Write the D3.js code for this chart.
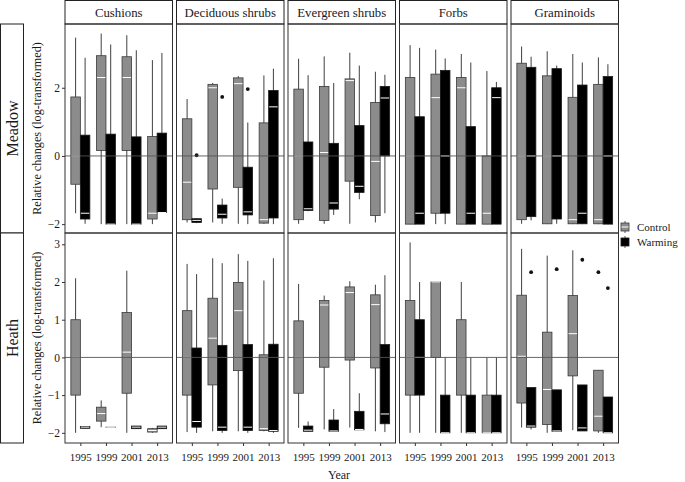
<!DOCTYPE html>
<html><head><meta charset="utf-8">
<script src="https://cdn.jsdelivr.net/npm/d3@7"></script>
<style>
body{margin:0;background:#fff}
svg{display:block}
text{font-family:"Liberation Serif","Times New Roman",serif;fill:#1a1a1a}
</style>
</head><body>
<svg id="chart" width="685" height="482" font-family="Liberation Serif, serif"></svg>
<script>
// ---------- data ----------
const habitats = ["Meadow", "Heath"];
const groups = ["Cushions", "Deciduous shrubs", "Evergreen shrubs", "Forbs", "Graminoids"];
const years = ["1995", "1999", "2001", "2013"];
const treatments = ["Control", "Warming"];

// each box: [lower whisker, Q1, median, Q3, upper whisker]; rows = groups, cols = years
const meadowControl = [
  [[-1.68,-0.83,0,1.73,3.47],[-2.0,0.16,2.30,2.94,3.59],[-2.0,0.16,2.30,2.91,3.54],[-2.0,-1.85,-1.68,0.57,2.81]],
  [[-1.95,-1.87,-0.77,1.09,1.67],[-1.95,-0.97,2.0,2.10,2.14],[-1.99,-0.92,2.12,2.29,2.34],[-1.99,-1.97,-1.87,0.97,2.36]],
  [[-1.99,-1.87,0,1.96,2.85],[-1.99,-1.89,0.10,2.04,2.92],[-1.99,-0.74,2.21,2.26,3.03],[-1.95,-1.75,-0.16,1.57,2.47]],
  [[-2,-2,0,2.30,3.25],[-2,-1.68,1.71,2.40,3.12],[-2,-2,2.0,2.30,2.99],[-2,-2,-1.68,0,2.49]],
  [[-1.99,-1.87,0,2.72,3.21],[-2,-1.99,0,2.35,3.07],[-2,-1.99,-1.87,1.72,2.99],[-2,-1.99,-1.87,2.10,2.89]]
];
const meadowWarming = [
  [[-1.99,-1.85,-1.68,0.61,2.88],[-2,-2,-2,0.64,3.27],[-2,-2,-2,0.56,3.10],[-1.66,-1.66,-1.66,0.67,3.02]],
  [[-1.97,-1.95,-1.89,-1.84,-1.84],[-1.99,-1.82,-1.71,-1.44,-1.25],[-2,-1.73,-1.64,-0.33,0.98],[-2,-1.82,1.44,1.92,2.56]],
  [[-1.62,-1.60,-1.55,0.41,2.37],[-1.73,-1.56,-1.38,0.37,2.14],[-1.27,-1.07,-0.89,0.89,2.65],[-1.68,0,1.70,2.04,2.38]],
  [[-2,-2,-1.68,1.15,3.17],[-2,-1.68,0,2.51,2.86],[-2,-2,-1.68,0.86,2.74],[-2,-2,1.71,2.0,2.17]],
  [[-1.89,-1.78,0,2.60,2.91],[-1.99,-1.85,0,2.56,2.65],[-2,-1.99,-1.68,2.08,2.74],[-2,-2,0,2.33,2.69]]
];
const heathControl = [
  [[-2,-1.0,0,1.0,2.1],[-1.85,-1.69,-1.49,-1.32,-1.14],[-2,-0.95,0.14,1.19,2.3],[-2.0,-1.98,-1.94,-1.89,-1.87]],
  [[-1.98,-1.0,0,1.24,2.48],[-1.96,-0.73,0.51,1.57,2.63],[-1.96,-0.35,1.24,1.99,2.74],[-1.96,-1.94,-1.89,0.07,2.04]],
  [[-1.87,-0.95,0,0.97,1.95],[-1.91,-0.26,1.39,1.51,1.64],[-1.86,-0.07,1.72,1.87,2.02],[-1.96,-0.28,1.40,1.66,1.93]],
  [[-2,-1.0,0,1.51,3.05],[-2,0,2.0,2.0,2.0],[-2,-1.0,0,1.0,2.0],[-2,-2,-2,-1.0,0]],
  [[-1.86,-1.21,0.03,1.65,2.88],[-2,-1.78,-0.85,0.67,2.70],[-1.93,-0.49,0.63,1.64,2.84],[-2,-1.95,-1.56,-0.34,-0.34]]
];
const heathWarming = [
  [[-1.88,-1.88,-1.85,-1.83,-1.83],[-1.85,-1.85,-1.85,-1.85,-1.85],[-1.89,-1.89,-1.85,-1.82,-1.82],[-1.89,-1.89,-1.85,-1.82,-1.82]],
  [[-2,-1.85,-1.70,0.25,2.21],[-2,-1.94,-1.85,0.32,2.5],[-2,-1.94,-1.85,0.34,2.56],[-2,-1.96,-1.94,0.35,2.63]],
  [[-1.96,-1.96,-1.93,-1.82,-1.70],[-1.96,-1.96,-1.95,-1.66,-1.37],[-1.92,-1.92,-1.91,-1.43,-0.95],[-1.98,-1.76,-1.50,0.34,2.18]],
  [[-2,-1.0,0,1.0,2.0],[-2,-2,-2,-1.0,0],[-2,-2,-2,-1.0,0],[-2,-2,-2,-1.0,0]],
  [[-1.91,-1.85,-1.82,-0.80,-0.80],[-1.96,-1.96,-1.95,-0.86,-0.86],[-1.95,-1.95,-1.87,-0.73,-0.73],[-2,-2,-2,-1.05,-1.05]]
];
// outliers: [habitat, group, year, treatment, value]
const outliers = [
  ["Meadow","Deciduous shrubs","1995","Warming",0.02],
  ["Meadow","Deciduous shrubs","1999","Warming",1.73],
  ["Meadow","Deciduous shrubs","2001","Warming",1.96],
  ["Heath","Graminoids","1995","Warming",2.26],
  ["Heath","Graminoids","1999","Warming",2.34],
  ["Heath","Graminoids","2001","Warming",2.59],
  ["Heath","Graminoids","2013","Control",2.26],
  ["Heath","Graminoids","2013","Warming",1.84]
];
const yTicksMeadow = [-2, 0, 2];
const yTicksHeath = [-2, -1, 0, 1, 2, 3];
const yTitle = "Relative changes (log-transformed)";
const xTitle = "Year";

// ---------- layout ----------
const stats = {Meadow: {Control: meadowControl, Warming: meadowWarming},
               Heath: {Control: heathControl, Warming: heathWarming}};
const yTicks = [yTicksMeadow, yTicksHeath];
const fills = {Control: "#8c8c8c", Warming: "#000000"};
const strokes = {Control: "#3a3a3a", Warming: "#1a1a1a"};
const serif = "'Liberation Serif','Times New Roman',serif";

const svg = d3.select("#chart");
const panelLeft = 65, panelStep = 111.5, panelW = 107.5;
const rowTop = [24, 233], rowH = [209, 210];
const yDomains = [[-2.26, 3.87], [-2.27, 3.30]];
const boxW = 9.5;

svg.append("rect").attr("width",685).attr("height",482).attr("fill","#fff");

habitats.forEach((hab, r) => {
  const y = d3.scaleLinear().domain(yDomains[r]).range([rowTop[r] + rowH[r], rowTop[r]]);

  // row strip
  svg.append("rect").attr("x", 0.5).attr("y", rowTop[r]).attr("width", 23).attr("height", rowH[r])
    .attr("fill", "#fff").attr("stroke", "#222").attr("stroke-width", 1);
  svg.append("text").attr("transform", `translate(12.5,${rowTop[r] + rowH[r]/2}) rotate(-90)`)
    .attr("text-anchor","middle").attr("dominant-baseline","central")
    .style("font-family", serif).style("font-size","16px").text(hab);
  // y title
  svg.append("text").attr("transform", `translate(37,${rowTop[r] + rowH[r]/2}) rotate(-90)`)
    .attr("text-anchor","middle").attr("dominant-baseline","central")
    .style("font-family", serif).style("font-size","12.2px").text(yTitle);

  // y axis
  const yAxis = svg.append("g").attr("transform", `translate(${panelLeft},0)`)
    .call(d3.axisLeft(y).tickValues(yTicks[r]).tickSize(3).tickPadding(2).tickFormat(d => d < 0 ? "\u2212" + Math.abs(d) : d));
  yAxis.select(".domain").remove();
  yAxis.selectAll("line").attr("stroke","#333");
  yAxis.selectAll("text").style("font-size","11.5px").style("font-family", serif).attr("fill","#1a1a1a");

  groups.forEach((grp, g) => {
    const x0 = panelLeft + g * panelStep;
    const x = d3.scalePoint().domain(years).range([x0, x0 + panelW]).padding(0.6);
    const pg = svg.append("g");

    if (r === 0) {
      svg.append("rect").attr("x", x0).attr("y", 0.5).attr("width", panelW).attr("height", rowTop[0] - 0.5)
        .attr("fill", "#fff").attr("stroke", "#222").attr("stroke-width", 1);
      svg.append("text").attr("x", x0 + panelW/2).attr("y", 12.5)
        .attr("text-anchor","middle").attr("dominant-baseline","central")
        .style("font-family", serif).style("font-size","12.8px").text(grp);
    }

    treatments.forEach((tr, t) => {
      const arr = stats[hab][tr][g];
      years.forEach((yr, k) => {
        const [lo, q1, med, q3, hi] = arr[k];
        const cx = x(yr) + (t === 0 ? -1 : 1) * boxW / 2;
        pg.append("line").attr("x1", cx).attr("x2", cx).attr("y1", y(lo)).attr("y2", y(hi))
          .attr("stroke", "#2a2a2a").attr("stroke-width", 0.9);
        pg.append("rect").attr("x", cx - boxW/2).attr("width", boxW)
          .attr("y", y(q3)).attr("height", Math.max(0.01, y(q1) - y(q3)))
          .attr("fill", fills[tr]).attr("stroke", strokes[tr]).attr("stroke-width", 0.8);
        pg.append("line").attr("x1", cx - boxW/2 + 0.5).attr("x2", cx + boxW/2 - 0.5)
          .attr("y1", y(med)).attr("y2", y(med)).attr("stroke", "#fff").attr("stroke-width", 1);
      });
    });

    outliers.filter(o => o[0] === hab && o[1] === grp).forEach(o => {
      const cx = x(o[2]) + (o[3] === "Control" ? -1 : 1) * boxW / 2;
      pg.append("circle").attr("cx", cx).attr("cy", y(o[4])).attr("r", 1.9).attr("fill", "#111");
    });

    // zero reference line
    pg.append("line").attr("x1", x0).attr("x2", x0 + panelW).attr("y1", y(0)).attr("y2", y(0))
      .attr("stroke", "#555").attr("stroke-width", 0.9);

    // panel border
    svg.append("rect").attr("x", x0).attr("y", rowTop[r]).attr("width", panelW).attr("height", rowH[r])
      .attr("fill", "none").attr("stroke", "#333").attr("stroke-width", 1);

    if (r === 1) {
      const xa = svg.append("g").attr("transform", `translate(0,${rowTop[1] + rowH[1]})`)
        .call(d3.axisBottom(x).tickSize(3).tickPadding(7));
      xa.select(".domain").remove();
      xa.selectAll("line").attr("stroke","#333");
      xa.selectAll("text").style("font-size","11px").style("font-family", serif).attr("fill","#1a1a1a");
    }
  });
});

// x title
svg.append("text").attr("x", 339).attr("y", 474.5).attr("text-anchor","middle")
  .attr("dominant-baseline","central").style("font-family", serif).style("font-size","12px").text(xTitle);

// legend
const lg = svg.append("g");
treatments.forEach((tr, t) => {
  const cy = 227 + t * 15;
  const kx = 625;
  lg.append("line").attr("x1", kx).attr("x2", kx).attr("y1", cy - 6).attr("y2", cy + 6)
    .attr("stroke", "#333").attr("stroke-width", 0.8);
  lg.append("rect").attr("x", kx - 4).attr("y", cy - 4).attr("width", 8).attr("height", 8)
    .attr("fill", fills[tr]).attr("stroke", strokes[tr]).attr("stroke-width", 0.8);
  if (tr === "Control") {
    lg.append("line").attr("x1", kx - 3.5).attr("x2", kx + 3.5).attr("y1", cy).attr("y2", cy)
      .attr("stroke", "#fff").attr("stroke-width", 1);
  }
  lg.append("text").attr("x", 637).attr("y", cy).attr("dominant-baseline","central")
    .style("font-family", serif).style("font-size","11px").text(tr);
});
</script>
</body></html>
